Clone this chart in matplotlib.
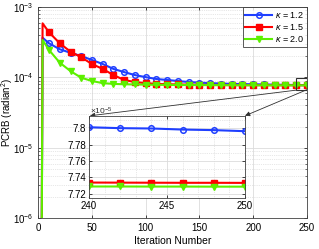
import matplotlib
matplotlib.use('Agg')
import matplotlib.pyplot as plt
from matplotlib.patches import Rectangle
from matplotlib.ticker import LogLocator, NullFormatter

plt.rcParams['font.family'] = ['Liberation Sans', 'DejaVu Sans']
plt.rcParams['mathtext.fontset'] = 'custom'
plt.rcParams['mathtext.rm'] = 'Liberation Sans'
plt.rcParams['mathtext.it'] = 'Liberation Sans:italic'

# main curves (iteration, PCRB)
iters = [3, 4, 10, 20, 30, 40, 50, 60, 70, 80, 90, 100, 110, 120, 130, 140, 150,
         160, 170, 180, 190, 200, 210, 220, 230, 240, 250]
pcrb_12 = [1e-7, 3.66e-4, 3.05e-4, 2.51e-4, 2.24e-4, 2.01e-4, 1.77e-4, 1.55e-4, 1.32e-4,
           1.19e-4, 1.08e-4, 1.01e-4, 9.5e-5, 9.2e-5, 8.9e-5, 8.6e-5, 8.45e-5, 8.3e-5,
           8.2e-5, 8.1e-5, 8.05e-5, 8.0e-5, 7.95e-5, 7.9e-5, 7.85e-5, 7.801e-5, 7.796e-5]
pcrb_15 = [1e-7, 5.86e-4, 4.37e-4, 3.05e-4, 2.32e-4, 1.93e-4, 1.55e-4, 1.32e-4, 1.08e-4,
           9.2e-5, 8.6e-5, 8.3e-5, 8.1e-5, 8.0e-5, 7.95e-5, 7.9e-5, 7.85e-5, 7.82e-5,
           7.8e-5, 7.78e-5, 7.77e-5, 7.76e-5, 7.75e-5, 7.745e-5, 7.74e-5, 7.734e-5, 7.733e-5]
pcrb_20 = [1e-7, 3.4e-4, 2.45e-4, 1.62e-4, 1.23e-4, 9.9e-5, 8.9e-5, 8.3e-5, 8.1e-5,
           8.0e-5, 7.95e-5, 7.9e-5, 7.86e-5, 7.83e-5, 7.81e-5, 7.8e-5, 7.79e-5, 7.78e-5,
           7.77e-5, 7.76e-5, 7.75e-5, 7.745e-5, 7.74e-5, 7.735e-5, 7.732e-5, 7.729e-5, 7.729e-5]

# zoomed region (x1e-5)
zoom_iters = [240, 242, 244, 246, 248, 250]
zoom_12 = [7.8013, 7.8002, 7.7998, 7.7985, 7.7978, 7.7965]
zoom_15 = [7.7338, 7.7337, 7.7336, 7.7335, 7.7335, 7.7334]
zoom_20 = [7.7290, 7.7290, 7.7289, 7.7289, 7.7288, 7.7288]

labels = [r'$\kappa$ = 1.2', r'$\kappa$ = 1.5', r'$\kappa$ = 2.0']
blue = '#1f3fff'
red = '#ff0000'
green = '#5cf000'

fig = plt.figure(figsize=(3.19, 2.49), dpi=100)
ax = fig.add_axes([0.120, 0.123, 0.842, 0.849])

lw = 1.5
mk = list(range(2, len(iters)))
ax.plot(iters, pcrb_12, color=blue, lw=lw, marker='o', ms=4, mfc='none', mew=1.1,
        markevery=mk, label=labels[0])
ax.plot(iters, pcrb_15, color=red, lw=lw, marker='s', ms=4, mfc=red,
        markevery=mk, label=labels[1])
ax.plot(iters, pcrb_20, color=green, lw=lw, marker='v', ms=4.6, mfc=green,
        markevery=mk, label=labels[2])

ax.set_yscale('log')
ax.set_xlim(0, 250)
ax.set_ylim(1e-6, 1e-3)
ax.set_xticks([0, 50, 100, 150, 200, 250])
ax.yaxis.set_minor_locator(LogLocator(base=10, subs=range(2, 10)))
ax.yaxis.set_minor_formatter(NullFormatter())
ax.grid(True, which='major', color='#dcdcdc', lw=0.6)
ax.grid(True, which='minor', axis='y', color='#d0d0d0', lw=0.5, ls=':')
ax.tick_params(direction='in', labelsize=7, length=2.5, width=0.5, top=True, right=True)
ax.tick_params(which='minor', direction='in', length=1.5, width=0.4, top=True, right=True)
for s in ax.spines.values():
    s.set_color('#404040')
    s.set_linewidth(0.6)
ax.set_xlabel('Iteration Number', fontsize=7.5, labelpad=2)
ax.set_ylabel('PCRB (radian$^2$)', fontsize=7)
ax.yaxis.set_label_coords(-0.086, 0.5)

leg = ax.legend(loc='upper right', fontsize=6.5, borderaxespad=0, fancybox=False,
                handlelength=3.0, borderpad=0.3, labelspacing=0.25, handletextpad=0.3)
leg.get_frame().set_edgecolor('#303030')
leg.get_frame().set_linewidth(0.7)

# highlighted box on main axes
ax.add_patch(Rectangle((240, 6.6e-5), 10, 9.8e-5 - 6.6e-5, fill=False,
                       ec='#303030', lw=0.8, zorder=5))

# inset
ins = fig.add_axes([0.279, 0.205, 0.489, 0.329])
ins.plot(zoom_iters, zoom_12, color=blue, lw=lw, marker='o', ms=4, mfc='none', mew=1.1)
ins.plot(zoom_iters, zoom_15, color=red, lw=lw, marker='s', ms=4, mfc=red)
ins.plot(zoom_iters, zoom_20, color=green, lw=lw, marker='v', ms=4.6, mfc=green)
ins.set_xlim(240, 250)
ins.set_ylim(7.715, 7.815)
ins.set_xticks([240, 245, 250])
ins.set_yticks([7.72, 7.74, 7.76, 7.78, 7.80])
ins.set_yticklabels(['7.72', '7.74', '7.76', '7.78', '7.8'])
ins.set_xticks([241, 242, 243, 244, 246, 247, 248, 249], minor=True)
ins.set_yticks([7.73, 7.75, 7.77, 7.79, 7.81], minor=True)
ins.grid(True, which='major', color='#dcdcdc', lw=0.6)
ins.grid(True, which='minor', color='#d0d0d0', lw=0.5, ls=':')
ins.tick_params(direction='in', labelsize=7, length=2.5, width=0.5, top=True, right=True, pad=2)
ins.tick_params(which='minor', length=0)
for s in ins.spines.values():
    s.set_color('#404040')
    s.set_linewidth(0.6)
fig.text(0.283, 0.542, r'$\times$10$^{-5}$', fontsize=6, color='#303030')

# arrows from the box to the inset
ax.annotate('', xy=(0.282, 0.535), xycoords='figure fraction',
            xytext=(240, 6.6e-5), textcoords='data',
            arrowprops=dict(arrowstyle='-|>', color='#303030', lw=0.6,
                            mutation_scale=7, shrinkA=0, shrinkB=0))
ax.annotate('', xy=(0.768, 0.535), xycoords='figure fraction',
            xytext=(250, 6.7e-5), textcoords='data',
            arrowprops=dict(arrowstyle='-|>', color='#303030', lw=0.6,
                            mutation_scale=7, shrinkA=0, shrinkB=0))

fig.savefig('out.png', dpi=100)
